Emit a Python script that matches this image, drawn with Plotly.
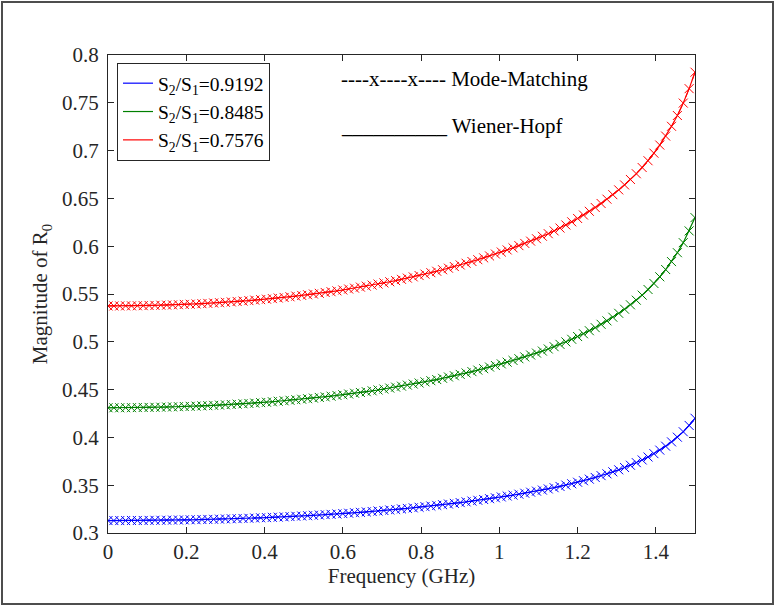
import plotly.graph_objects as go

# Frequency grid (GHz)
freq = [round(0.015 * i, 3) for i in range(101)]

# Magnitude of R0 for each area ratio
ratio_labels = ["0.9192", "0.8485", "0.7576"]
ratio_colors = ["#0000ff", "#008000", "#ff0000"]

r0_0p9192 = [
    0.3130, 0.3130, 0.3130, 0.3130, 0.3131, 0.3131, 0.3131, 0.3132, 0.3133, 0.3133,
    0.3134, 0.3135, 0.3136, 0.3137, 0.3138, 0.3139, 0.3141, 0.3142, 0.3143, 0.3145,
    0.3147, 0.3149, 0.3150, 0.3152, 0.3154, 0.3157, 0.3159, 0.3161, 0.3164, 0.3166,
    0.3169, 0.3172, 0.3175, 0.3178, 0.3181, 0.3185, 0.3188, 0.3192, 0.3195, 0.3199,
    0.3203, 0.3207, 0.3212, 0.3216, 0.3221, 0.3225, 0.3230, 0.3235, 0.3241, 0.3246,
    0.3252, 0.3257, 0.3263, 0.3269, 0.3276, 0.3282, 0.3289, 0.3296, 0.3303, 0.3310,
    0.3318, 0.3326, 0.3334, 0.3342, 0.3350, 0.3359, 0.3368, 0.3377, 0.3387, 0.3396,
    0.3406, 0.3416, 0.3427, 0.3438, 0.3449, 0.3461, 0.3474, 0.3487, 0.3501, 0.3515,
    0.3531, 0.3547, 0.3563, 0.3581, 0.3600, 0.3619, 0.3640, 0.3661, 0.3685, 0.3709,
    0.3736, 0.3764, 0.3795, 0.3830, 0.3867, 0.3908, 0.3953, 0.4002, 0.4059, 0.4125,
    0.4200,
]

r0_0p8485 = [
    0.4310, 0.4310, 0.4310, 0.4311, 0.4311, 0.4312, 0.4313, 0.4314, 0.4315, 0.4316,
    0.4318, 0.4319, 0.4321, 0.4323, 0.4325, 0.4327, 0.4330, 0.4332, 0.4335, 0.4338,
    0.4341, 0.4344, 0.4348, 0.4352, 0.4355, 0.4359, 0.4364, 0.4368, 0.4373, 0.4378,
    0.4383, 0.4388, 0.4394, 0.4399, 0.4405, 0.4411, 0.4418, 0.4424, 0.4431, 0.4439,
    0.4446, 0.4454, 0.4462, 0.4470, 0.4478, 0.4487, 0.4496, 0.4506, 0.4516, 0.4526,
    0.4536, 0.4547, 0.4558, 0.4569, 0.4581, 0.4593, 0.4605, 0.4618, 0.4632, 0.4645,
    0.4659, 0.4674, 0.4688, 0.4704, 0.4719, 0.4736, 0.4752, 0.4769, 0.4787, 0.4805,
    0.4823, 0.4842, 0.4862, 0.4882, 0.4903, 0.4925, 0.4949, 0.4973, 0.4999, 0.5026,
    0.5055, 0.5084, 0.5116, 0.5148, 0.5183, 0.5219, 0.5257, 0.5298, 0.5341, 0.5387,
    0.5435, 0.5488, 0.5547, 0.5610, 0.5680, 0.5756, 0.5839, 0.5932, 0.6037, 0.6160,
    0.6299,
]

r0_0p7576 = [
    0.5375, 0.5375, 0.5375, 0.5376, 0.5376, 0.5377, 0.5378, 0.5380, 0.5381, 0.5383,
    0.5384, 0.5386, 0.5388, 0.5391, 0.5393, 0.5396, 0.5399, 0.5402, 0.5406, 0.5409,
    0.5413, 0.5417, 0.5422, 0.5426, 0.5431, 0.5436, 0.5441, 0.5446, 0.5452, 0.5458,
    0.5464, 0.5471, 0.5478, 0.5485, 0.5492, 0.5500, 0.5507, 0.5516, 0.5524, 0.5533,
    0.5542, 0.5552, 0.5561, 0.5572, 0.5582, 0.5593, 0.5604, 0.5616, 0.5628, 0.5640,
    0.5653, 0.5666, 0.5679, 0.5693, 0.5708, 0.5723, 0.5738, 0.5754, 0.5770, 0.5787,
    0.5804, 0.5822, 0.5840, 0.5859, 0.5878, 0.5898, 0.5918, 0.5939, 0.5961, 0.5983,
    0.6006, 0.6029, 0.6053, 0.6078, 0.6104, 0.6131, 0.6160, 0.6190, 0.6222, 0.6255,
    0.6290, 0.6326, 0.6365, 0.6405, 0.6447, 0.6492, 0.6539, 0.6589, 0.6641, 0.6698,
    0.6758, 0.6823, 0.6894, 0.6973, 0.7058, 0.7152, 0.7254, 0.7367, 0.7497, 0.7648,
    0.7820,
]

series = [r0_0p9192, r0_0p8485, r0_0p7576]

FONT = "Liberation Serif"
FS = 21
AXIS_COLOR = "#262626"
W, H = 775, 606
ML, MR, MT, MB = 108, 80, 55, 73
PW, PH = W - ML - MR, H - MT - MB

fig = go.Figure()

# Wiener-Hopf (solid) and Mode-Matching (dashed with x markers)
for vals, lab, col in zip(series, ratio_labels, ratio_colors):
    fig.add_trace(go.Scatter(
        x=freq, y=vals, mode="lines",
        line=dict(color=col, width=1.2),
        name=f"S<sub>2</sub>/S<sub>1</sub>={lab}",
        showlegend=True,
    ))
for vals, lab, col in zip(series, ratio_labels, ratio_colors):
    fig.add_trace(go.Scatter(
        x=freq, y=vals, mode="lines+markers",
        line=dict(color=col, width=1, dash="dash"),
        marker=dict(symbol="x-thin", size=9, line=dict(color=col, width=1)),
        showlegend=False,
    ))


def px_x(p):
    return (p - ML) / PW


def px_y(p):
    return (H - MB - p) / PH


# Outer figure frame
fig.add_shape(type="rect", xref="paper", yref="paper",
              x0=px_x(2), x1=px_x(773), y0=px_y(604), y1=px_y(2),
              line=dict(color="#4d4d4d", width=2), layer="above")

fig.add_annotation(xref="paper", yref="paper", x=px_x(339), y=px_y(79),
                   xanchor="left", yanchor="middle", showarrow=False,
                   text="----x----x---- Mode-Matching",
                   font=dict(family=FONT, size=FS, color="#000000"))
fig.add_annotation(xref="paper", yref="paper", x=px_x(339), y=px_y(126),
                   xanchor="left", yanchor="middle", showarrow=False,
                   text="__________ Wiener-Hopf",
                   font=dict(family=FONT, size=FS, color="#000000"))

axis_common = dict(
    showline=True, linecolor=AXIS_COLOR, linewidth=1, mirror="ticks",
    ticks="inside", ticklen=6, tickcolor=AXIS_COLOR, tickwidth=1,
    showgrid=False, zeroline=False,
    tickfont=dict(family=FONT, size=FS, color=AXIS_COLOR),
)

fig.update_xaxes(range=[0, 1.5], tick0=0, dtick=0.2,
                 title=dict(text="Frequency (GHz)", standoff=4,
                            font=dict(family=FONT, size=FS, color=AXIS_COLOR)),
                 **axis_common)
fig.update_yaxes(range=[0.3, 0.8], tick0=0.3, dtick=0.05,
                 ticklabelstandoff=4,
                 title=dict(text="Magnitude of R<sub>0</sub>", standoff=8,
                            font=dict(family=FONT, size=FS, color=AXIS_COLOR)),
                 **axis_common)

fig.update_layout(
    width=W, height=H, autosize=False,
    margin=dict(l=ML, r=MR, t=MT, b=MB),
    paper_bgcolor="white", plot_bgcolor="white",
    font=dict(family=FONT, size=FS, color=AXIS_COLOR),
    legend=dict(x=px_x(117), y=px_y(63), xanchor="left", yanchor="top",
                bgcolor="white", bordercolor=AXIS_COLOR, borderwidth=1,
                font=dict(family=FONT, size=19.5, color="#000000"),
                tracegroupgap=0, itemwidth=30),
    showlegend=True,
)

fig.write_html("out.html")
